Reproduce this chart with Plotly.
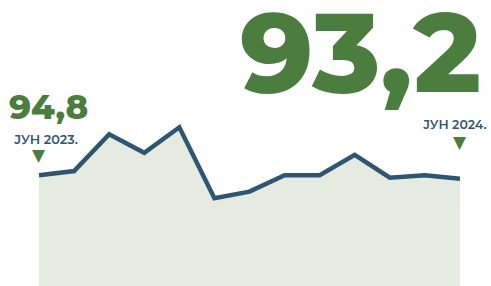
import plotly.graph_objects as go

months = ["Јун 23", "Јул 23", "Авг 23", "Сеп 23", "Окт 23", "Ное 23", "Дек 23",
          "Јан 24", "Фев 24", "Мар 24", "Апр 24", "Мај 24", "Јун 24"]
values = [94.8, 96.8, 114.1, 105.4, 117.4, 84.0, 87.1, 94.8, 94.8, 104.4, 93.7, 94.8, 93.2]

big_value = "93,2"
start_value = "94,8"
start_label = "ЈУН 2023."
end_label = "ЈУН 2024."

GREEN = "#4b7d3e"
BLUE = "#2f5670"
FILL = "#e5ebe1"

fig = go.Figure()
fig.add_trace(go.Scatter(
    x=months, y=values, mode="lines",
    line=dict(color=BLUE, width=4.5),
    fill="tozeroy", fillcolor=FILL,
    hoverinfo="skip",
))

font_fam = "Montserrat, 'Open Sans', sans-serif"
ann = []
ann.append(dict(text=big_value, x=0.983, y=1.067, xref="paper", yref="paper",
                xanchor="right", yanchor="top", showarrow=False,
                font=dict(family=font_fam, size=113, color=GREEN, weight=800)))
ann.append(dict(text=start_value, x=0.098, y=0.625, xref="paper", yref="paper",
                xanchor="center", yanchor="middle", showarrow=False,
                font=dict(family=font_fam, size=34, color=GREEN, weight=800)))
ann.append(dict(text=start_label, x=0.0935, y=0.513, xref="paper", yref="paper",
                xanchor="center", yanchor="middle", showarrow=False,
                font=dict(family=font_fam, size=12.8, color=BLUE, weight=600)))
ann.append(dict(text=end_label, x=0.926, y=0.565, xref="paper", yref="paper",
                xanchor="center", yanchor="middle", showarrow=False,
                font=dict(family=font_fam, size=12.5, color=BLUE, weight=600)))
ann.append(dict(text="▼", x=months[0], y=0.457, xref="x", yref="paper",
                xanchor="center", yanchor="middle", showarrow=False,
                font=dict(family="DejaVu Sans", size=17, color=GREEN)))
ann.append(dict(text="▼", x=months[-1], y=0.503, xref="x", yref="paper",
                xanchor="center", yanchor="middle", showarrow=False,
                font=dict(family="DejaVu Sans", size=17, color=GREEN)))

fig.update_layout(
    width=491, height=286,
    margin=dict(l=0, r=0, t=0, b=0, autoexpand=False),
    paper_bgcolor="white", plot_bgcolor="white",
    showlegend=False,
    xaxis=dict(type="category", range=[-1.112, 12.884], visible=False, fixedrange=True),
    yaxis=dict(range=[42.7, 177.3], visible=False, fixedrange=True),
    annotations=ann,
)

fig.write_html("out.html", config={"displayModeBar": False, "staticPlot": True},
               post_script="document.body.style.margin='0';document.body.style.overflow='hidden';")
